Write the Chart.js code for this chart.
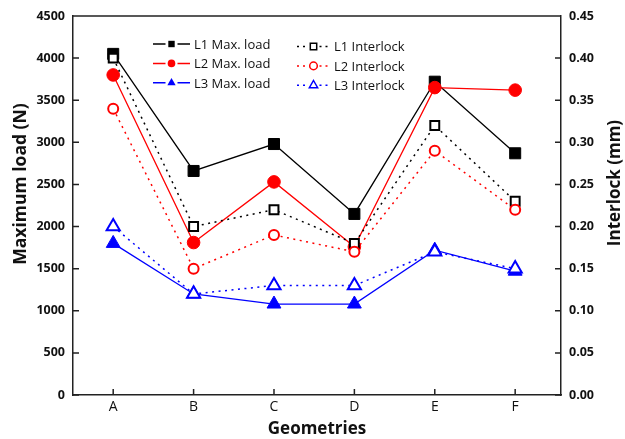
<!DOCTYPE html>
<html>
<head>
<meta charset="utf-8">
<script src="https://cdn.jsdelivr.net/npm/chart.js@4.4.0/dist/chart.umd.min.js"></script>
<style>
  body { margin: 0; background: #fff; }
  #wrap { width: 625px; height: 439px; }
</style>
</head>
<body>
<div id="wrap"><canvas id="chart"></canvas></div>
<script>
// categories and values
const geometries = ['A', 'B', 'C', 'D', 'E', 'F'];
const l1MaxLoad = [4050, 2660, 2980, 2150, 3720, 2870];
const l2MaxLoad = [3800, 1810, 2530, 1760, 3650, 3620];
const l3MaxLoad = [1800, 1200, 1080, 1080, 1720, 1470];
const l1Interlock = [0.40, 0.20, 0.22, 0.18, 0.32, 0.23];
const l2Interlock = [0.34, 0.15, 0.19, 0.17, 0.29, 0.22];
const l3Interlock = [0.20, 0.12, 0.13, 0.13, 0.17, 0.15];

const toPoints = arr => arr.map((v, i) => ({ x: i, y: v }));

function maxSet(label, data, color, style, radius, order) {
    return {
        label, data: toPoints(data), yAxisID: 'y', order,
        borderColor: color, backgroundColor: color, borderWidth: 1.3,
        pointStyle: style, pointRadius: radius, pointHoverRadius: radius,
        pointBackgroundColor: color, pointBorderColor: color, pointBorderWidth: 1
    };
}

function interSet(label, data, color, style, radius, order) {
    return {
        label, data: toPoints(data), yAxisID: 'y2', order,
        borderColor: color, backgroundColor: '#fff', borderWidth: 1.5, borderDash: [2, 4.5],
        pointStyle: style, pointRadius: radius, pointHoverRadius: radius,
        pointBackgroundColor: '#fff', pointBorderColor: color, pointBorderWidth: 2
    };
}

// small marker painter, used for the legend
function marker(ctx, style, x, y, r, filled, color) {
    ctx.save();
    ctx.beginPath();
    if (style === 'rect') {
        ctx.rect(x - r, y - r, 2 * r, 2 * r);
    } else if (style === 'circle') {
        ctx.arc(x, y, r, 0, Math.PI * 2);
    } else {
        ctx.moveTo(x, y - r);
        ctx.lineTo(x + r * 0.866, y + r * 0.5);
        ctx.lineTo(x - r * 0.866, y + r * 0.5);
        ctx.closePath();
    }
    ctx.setLineDash([]);
    if (filled) {
        ctx.fillStyle = color;
        ctx.fill();
    } else {
        ctx.fillStyle = '#fff';
        ctx.fill();
        ctx.lineWidth = 1.5;
        ctx.strokeStyle = color;
        ctx.stroke();
    }
    ctx.restore();
}

const framePlugin = {
    id: 'frame',
    afterDraw(chart) {
        const ctx = chart.ctx;
        const a = chart.chartArea;
        const { x, y, y2 } = chart.scales;
        ctx.save();
        ctx.strokeStyle = '#222';
        ctx.lineWidth = 1.5;
        ctx.beginPath();
        ctx.moveTo(a.left, a.top);
        ctx.lineTo(a.right, a.top);
        // inward ticks
        x.ticks.forEach(t => {
            const px = x.getPixelForValue(t.value);
            ctx.moveTo(px, a.bottom);
            ctx.lineTo(px, a.bottom - 6);
        });
        y.ticks.forEach(t => {
            const py = y.getPixelForValue(t.value);
            ctx.moveTo(a.left, py);
            ctx.lineTo(a.left + 6, py);
        });
        y2.ticks.forEach(t => {
            const py = y2.getPixelForValue(t.value);
            ctx.moveTo(a.right, py);
            ctx.lineTo(a.right - 6, py);
        });
        ctx.stroke();

        // axis titles
        ctx.fillStyle = '#111';
        ctx.textAlign = 'center';
        ctx.textBaseline = 'middle';
        ctx.font = 'bold 17px "Open Sans"';
        ctx.fillText('Geometries', (a.left + a.right) / 2, 429);
        ctx.save();
        ctx.translate(21, 184);
        ctx.rotate(-Math.PI / 2);
        ctx.font = 'bold 17.5px "Open Sans"';
        ctx.fillText('Maximum load (N)', 0, 0);
        ctx.restore();
        ctx.save();
        ctx.translate(615, 183);
        ctx.rotate(-Math.PI / 2);
        ctx.font = 'bold 17px "Open Sans"';
        ctx.fillText('Interlock (mm)', 0, 0);
        ctx.restore();

        // legend, two columns
        ctx.font = '13px "Open Sans"';
        ctx.textAlign = 'left';
        chart.data.datasets.forEach((ds, i) => {
            const col = i < 3 ? 0 : 1;
            const row = i % 3;
            const x0 = col ? 297 : 153;
            const x1 = col ? 330 : 190;
            const ly = (col ? 46.5 : 44) + row * 19.4;
            const mx = (x0 + x1) / 2;
            ctx.save();
            ctx.strokeStyle = ds.borderColor;
            ctx.lineWidth = 1.5;
            ctx.setLineDash(col ? [2, 4] : []);
            ctx.beginPath();
            ctx.moveTo(x0, ly);
            ctx.lineTo(mx - 6, ly);
            ctx.moveTo(mx + 6, ly);
            ctx.lineTo(x1, ly);
            ctx.stroke();
            ctx.restore();
            const r = ds.pointStyle === 'triangle' ? 4.8 : (ds.pointStyle === 'rect' ? 3.2 : 3.8);
            marker(ctx, ds.pointStyle, mx, ly, r, !col, ds.borderColor);
            ctx.fillStyle = '#111';
            ctx.fillText(ds.label, x1 + 4, ly + 1);
        });
        ctx.restore();
    }
};

new Chart(document.getElementById('chart'), {
    type: 'line',
    data: {
        datasets: [
            maxSet('L1 Max. load', l1MaxLoad, '#000000', 'rect', 7.8, 6),
            maxSet('L2 Max. load', l2MaxLoad, '#ff0000', 'circle', 6.3, 5),
            maxSet('L3 Max. load', l3MaxLoad, '#0000ff', 'triangle', 8, 4),
            interSet('L1 Interlock', l1Interlock, '#000000', 'rect', 6.3, 3),
            interSet('L2 Interlock', l2Interlock, '#ff0000', 'circle', 5, 2),
            interSet('L3 Interlock', l3Interlock, '#0000ff', 'triangle', 7.6, 1)
        ]
    },
    options: {
        responsive: true,
        maintainAspectRatio: false,
        animation: false,
        layout: { padding: { top: 16, left: 0, right: 0, bottom: 0 } },
        plugins: {
            legend: { display: false },
            tooltip: { enabled: false }
        },
        scales: {
            x: {
                type: 'linear',
                min: -0.5,
                max: 5.57,
                afterBuildTicks: s => { s.ticks = geometries.map((g, i) => ({ value: i })); },
                afterFit: s => { s.height = 44; },
                grid: { drawOnChartArea: false, drawTicks: false },
                border: { color: '#222', width: 1.5 },
                ticks: {
                    padding: 4,
                    color: '#111',
                    font: { family: 'Open Sans', size: 14 },
                    callback: v => geometries[v]
                }
            },
            y: {
                position: 'left',
                min: 0,
                max: 4500,
                afterFit: s => { s.width = 73; },
                grid: { drawOnChartArea: false, drawTicks: false },
                border: { color: '#222', width: 1.5 },
                ticks: {
                    stepSize: 500,
                    padding: 8,
                    color: '#111',
                    font: { family: 'Open Sans', size: 12.5, weight: 'bold' },
                    callback: v => String(v)
                }
            },
            y2: {
                position: 'right',
                min: 0,
                max: 0.45,
                afterFit: s => { s.width = 64; },
                grid: { drawOnChartArea: false, drawTicks: false },
                border: { color: '#222', width: 1.5 },
                ticks: {
                    stepSize: 0.05,
                    padding: 8,
                    color: '#111',
                    font: { family: 'Open Sans', size: 12.5, weight: 'bold' },
                    callback: v => v.toFixed(2)
                }
            }
        }
    },
    plugins: [framePlugin]
});
</script>
</body>
</html>
